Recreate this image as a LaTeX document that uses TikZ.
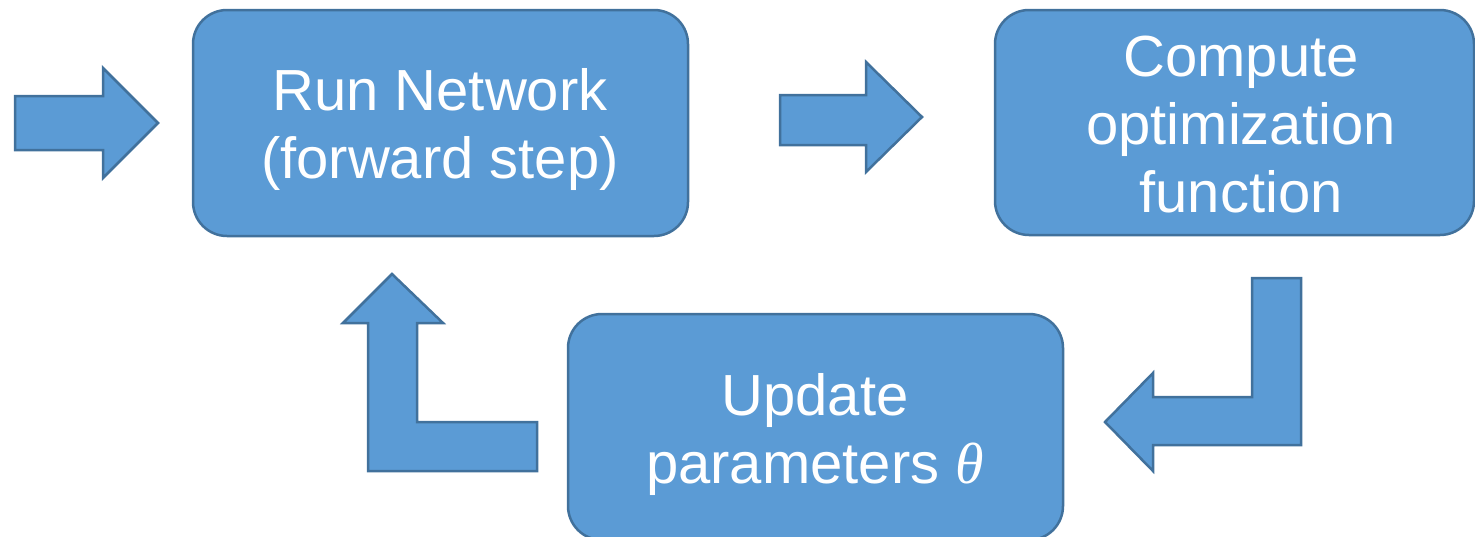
\documentclass[tikz,border=0pt]{standalone}
\usepackage{fontspec}
\setmainfont{Liberation Sans}
\newfontfamily\greekitalic{Liberation Serif}
\definecolor{boxfill}{HTML}{5B9BD5}
\definecolor{boxline}{HTML}{41719C}
\begin{document}
\begin{tikzpicture}[x=1pt,y=-1pt,
  stage/.style={rectangle, rounded corners=34pt, fill=boxfill, draw=boxline,
    line width=2.5pt, inner sep=0pt},
  caption/.style={inner sep=0pt, align=center, text=white,
    font=\fontsize{58}{68}\selectfont},
  blockarrow/.style={fill=boxfill, draw=boxline, line width=2.5pt, line join=miter}]
\useasboundingbox (0,0) rectangle (1475,536);

% process stages
\node[stage, minimum width=495pt, minimum height=226pt] (run) at (440.5,123) {};
\node[stage, minimum width=479pt, minimum height=225pt] (cost) at (1234.5,122.5) {};
\node[stage, minimum width=495pt, minimum height=226pt] (upd) at (815.5,427) {};

% stage captions
\node[caption] (runtext) at (440,130) {Run Network\\(forward step)};
\node[caption] (costtext) at (1241,124.5) {Compute\\optimization\\function};
\node[caption] (updtext) at (815,434) {Update\\parameters {\greekitalic\itshape θ}};

% incoming arrow
\draw[blockarrow] (15,96) -- (103,96) -- (103,68) -- (158,123) -- (103,178)
  -- (103,150) -- (15,150) -- cycle;
% run -> cost
\draw[blockarrow] (780,95) -- (866,95) -- (866,62) -- (922,117) -- (866,172)
  -- (866,145) -- (780,145) -- cycle;
% cost -> update (bent down and left)
\draw[blockarrow] (1252,278) -- (1301,278) -- (1301,445) -- (1153,445)
  -- (1153,471) -- (1105,422) -- (1153,373) -- (1153,397) -- (1252,397) -- cycle;
% update -> run (bent left and up)
\draw[blockarrow] (537,422) -- (537,471) -- (368,471) -- (368,323) -- (343,323)
  -- (392,274) -- (443,323) -- (417,323) -- (417,422) -- cycle;
\end{tikzpicture}
\end{document}
